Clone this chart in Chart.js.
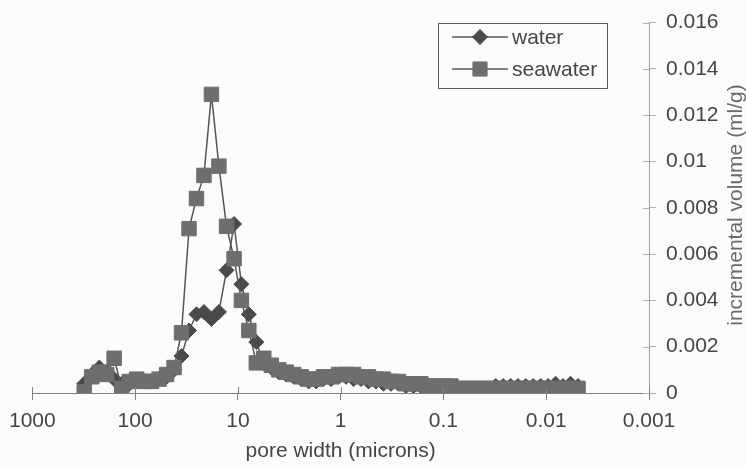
<!DOCTYPE html>
<html>
<head>
<meta charset="utf-8">
<script src="https://cdn.jsdelivr.net/npm/chart.js@4.4.1/dist/chart.umd.min.js"></script>
<style>
  html, body { margin: 0; padding: 0; background: #fbfbfb; }
  canvas { display: block; }
</style>
</head>
<body>
<canvas id="chart" width="746" height="467"></canvas>
<script>
// Pore size distribution: incremental intrusion volume vs pore width (log axis, reversed)
const poreWidth = [
  313, 264, 223, 189, 160, 135, 114, 96.6, 81.8, 69.2,
  58.5, 49.4, 41.8, 35.4, 29.9, 25.3, 21.4, 18.1, 15.3, 12.9,
  10.9, 9.25, 7.83, 6.62, 5.60, 4.73, 4.00, 3.39, 2.86, 2.42,
  2.05, 1.73, 1.47, 1.24, 1.05, 0.886, 0.748, 0.634, 0.536, 0.453,
  0.383, 0.324, 0.274, 0.232, 0.196, 0.166, 0.140, 0.119, 0.100, 0.0847,
  0.0716, 0.0605, 0.0513, 0.0434, 0.0366, 0.0310, 0.0262, 0.0222, 0.0188, 0.0158,
  0.0134, 0.0113, 0.00959, 0.00811, 0.00686, 0.00580, 0.00490
]

const water = [
  0.0004, 0.0008, 0.0011, 0.0009, 0.0006, 0.0004, 0.0004, 0.0005, 0.0005, 0.0005,
  0.0006, 0.0007, 0.0010, 0.0016, 0.0027, 0.0034, 0.0035, 0.0032, 0.0035, 0.0053,
  0.0073, 0.0047, 0.0034, 0.0022, 0.0013, 0.0011, 0.0009, 0.0008, 0.0007, 0.0006,
  0.0005, 0.0005, 0.0006, 0.0006, 0.0007, 0.0007, 0.0006, 0.0006, 0.0005, 0.0005,
  0.0004, 0.0004, 0.0004, 0.0003, 0.0003, 0.0003, 0.0003, 0.0003, 0.0002, 0.0002,
  0.0002, 0.0002, 0.0002, 0.0002, 0.0002, 0.0003, 0.0003, 0.0003, 0.0003, 0.0003,
  0.0003, 0.0003, 0.0003, 0.0004, 0.0003, 0.0004, 0.0003
]

const seawater = [
  0.00005, 0.0007, 0.0009, 0.0008, 0.0015, 0.0002, 0.0005, 0.0006, 0.0005, 0.0005,
  0.0006, 0.0008, 0.0011, 0.0026, 0.0071, 0.0084, 0.0094, 0.0129, 0.0098, 0.0072,
  0.0058, 0.0040, 0.0027, 0.0013, 0.0015, 0.0012, 0.0010, 0.0009, 0.0008, 0.0007,
  0.0006, 0.0006, 0.0007, 0.0007, 0.0008, 0.0008, 0.0008, 0.0007, 0.0007, 0.0006,
  0.0006, 0.0005, 0.0005, 0.0004, 0.0004, 0.0004, 0.0003, 0.0003, 0.0003, 0.0003,
  0.0002, 0.0002, 0.0002, 0.0002, 0.0002, 0.0002, 0.0002, 0.0002, 0.0002, 0.0002,
  0.0002, 0.0002, 0.0002, 0.0002, 0.0002, 0.0002, 0.0002
]

const xTickValues = [1000, 100, 10, 1, 0.1, 0.01, 0.001]
const xTickLabels = ['1000', '100', '10', '1', '0.1', '0.01', '0.001']
const yTickValues = [0, 0.002, 0.004, 0.006, 0.008, 0.01, 0.012, 0.014, 0.016]
const yTickLabels = ['0', '0.002', '0.004', '0.006', '0.008', '0.01', '0.012', '0.014', '0.016']

const FONT = "'Liberation Sans', Arial, sans-serif"
const TEXT = '#454545'
const AXIS = '#808080'
const WATER_FILL = '#4a4a4a'
const SEA_FILL = '#6e6e6e'
const LINE = '#555555'

const toPoints = (values) => values.map((v, i) => ({ x: poreWidth[i], y: v }))

// Boxed legend drawn inside the plot, line-marker-line like the original
const boxLegend = {
  id: 'boxLegend',
  afterDraw(chart) {
    const ctx = chart.ctx
    ctx.save()
    ctx.strokeStyle = '#5a5a5a'
    ctx.lineWidth = 1
    ctx.strokeRect(438.5, 23.5, 169, 65)

    const items = [
      { label: 'water', y: 37, style: 'rectRot', r: 7.5, fill: WATER_FILL },
      { label: 'seawater', y: 69, style: 'rect', r: 10, fill: SEA_FILL }
    ]
    items.forEach(item => {
      ctx.strokeStyle = LINE
      ctx.lineWidth = 1.5
      ctx.beginPath()
      ctx.moveTo(452, item.y)
      ctx.lineTo(508, item.y)
      ctx.stroke()
      ctx.fillStyle = item.fill
      ctx.strokeStyle = item.fill
      ctx.lineWidth = 1
      Chart.helpers.drawPoint(ctx, { pointStyle: item.style, rotation: 0, radius: item.r, borderWidth: 1 }, 480, item.y)
      ctx.fillStyle = TEXT
      ctx.font = `21px ${FONT}`
      ctx.textBaseline = 'middle'
      ctx.textAlign = 'left'
      ctx.fillText(item.label, 512, item.y + 1)
    })
    ctx.restore()
  }
}

// Right-hand axis title reads bottom to top
const rightTitle = {
  id: 'rightTitle',
  afterDraw(chart) {
    const ctx = chart.ctx
    ctx.save()
    ctx.translate(736, 205)
    ctx.rotate(-Math.PI / 2)
    ctx.fillStyle = '#6a6a6a'
    ctx.font = `21px ${FONT}`
    ctx.textAlign = 'center'
    ctx.textBaseline = 'middle'
    ctx.fillText('incremental volume (ml/g)', 0, 0)
    ctx.restore()
  }
}

// Tick marks that cross the axis lines (inner half), as in the original
const crossTicks = {
  id: 'crossTicks',
  afterDatasetsDraw(chart) {
    const { ctx, scales: { x, y } } = chart
    ctx.save()
    ctx.lineWidth = 1
    ctx.strokeStyle = AXIS
    ctx.beginPath()
    x.ticks.forEach(t => {
      const px = Math.round(x.getPixelForValue(t.value)) + 0.5
      ctx.moveTo(px, y.bottom)
      ctx.lineTo(px, y.bottom - 6)
    })
    ctx.stroke()
    ctx.strokeStyle = '#b0b0b0'
    ctx.beginPath()
    y.ticks.forEach(t => {
      const py = Math.round(y.getPixelForValue(t.value)) + 0.5
      ctx.moveTo(x.right, py)
      ctx.lineTo(x.right - 6, py)
    })
    ctx.stroke()
    ctx.restore()
  }
}

const ctx = document.getElementById('chart').getContext('2d')

new Chart(ctx, {
  type: 'scatter',
  data: {
    datasets: [
      {
        label: 'water',
        data: toPoints(water),
        showLine: true,
        borderColor: LINE,
        borderWidth: 1.5,
        pointStyle: 'rectRot',
        pointRadius: 7.5,
        pointBackgroundColor: WATER_FILL,
        pointBorderColor: WATER_FILL,
        pointBorderWidth: 1,
        order: 1
      },
      {
        label: 'seawater',
        data: toPoints(seawater),
        showLine: true,
        borderColor: LINE,
        borderWidth: 1.5,
        pointStyle: 'rect',
        pointRadius: 10.2,
        pointBackgroundColor: SEA_FILL,
        pointBorderColor: SEA_FILL,
        pointBorderWidth: 1,
        order: 0
      }
    ]
  },
  options: {
    responsive: false,
    animation: false,
    layout: { padding: { left: 30, top: 17, right: 0, bottom: 0 } },
    plugins: {
      legend: { display: false },
      tooltip: { enabled: false }
    },
    scales: {
      x: {
        type: 'logarithmic',
        reverse: true,
        min: 0.001,
        max: 1000,
        afterBuildTicks: (scale) => { scale.ticks = xTickValues.map(v => ({ value: v })) },
        afterFit: (scale) => { scale.height = 74 },
        grid: { drawOnChartArea: false, drawTicks: true, tickLength: 7, color: AXIS },
        border: { color: AXIS, width: 1 },
        ticks: {
          autoSkip: false,
          maxRotation: 0,
          padding: 9,
          color: TEXT,
          font: { family: FONT, size: 21 },
          callback: (value, index) => xTickLabels[index]
        },
        title: {
          display: true,
          text: 'pore width (microns)',
          color: TEXT,
          font: { family: FONT, size: 21 },
          padding: { top: 0, bottom: 3 }
        }
      },
      y: {
        position: 'right',
        min: 0,
        max: 0.016,
        afterBuildTicks: (scale) => { scale.ticks = yTickValues.map(v => ({ value: v })) },
        afterFit: (scale) => { scale.width = 97 },
        grid: { drawOnChartArea: false, drawTicks: true, tickLength: 7, color: '#b0b0b0' },
        border: { color: '#a0a0a0', width: 1 },
        ticks: {
          padding: 10,
          color: TEXT,
          font: { family: FONT, size: 21 },
          callback: (value, index) => yTickLabels[index]
        },
        title: { display: false }
      }
    }
  },
  plugins: [crossTicks, boxLegend, rightTitle]
})
</script>
</body>
</html>
